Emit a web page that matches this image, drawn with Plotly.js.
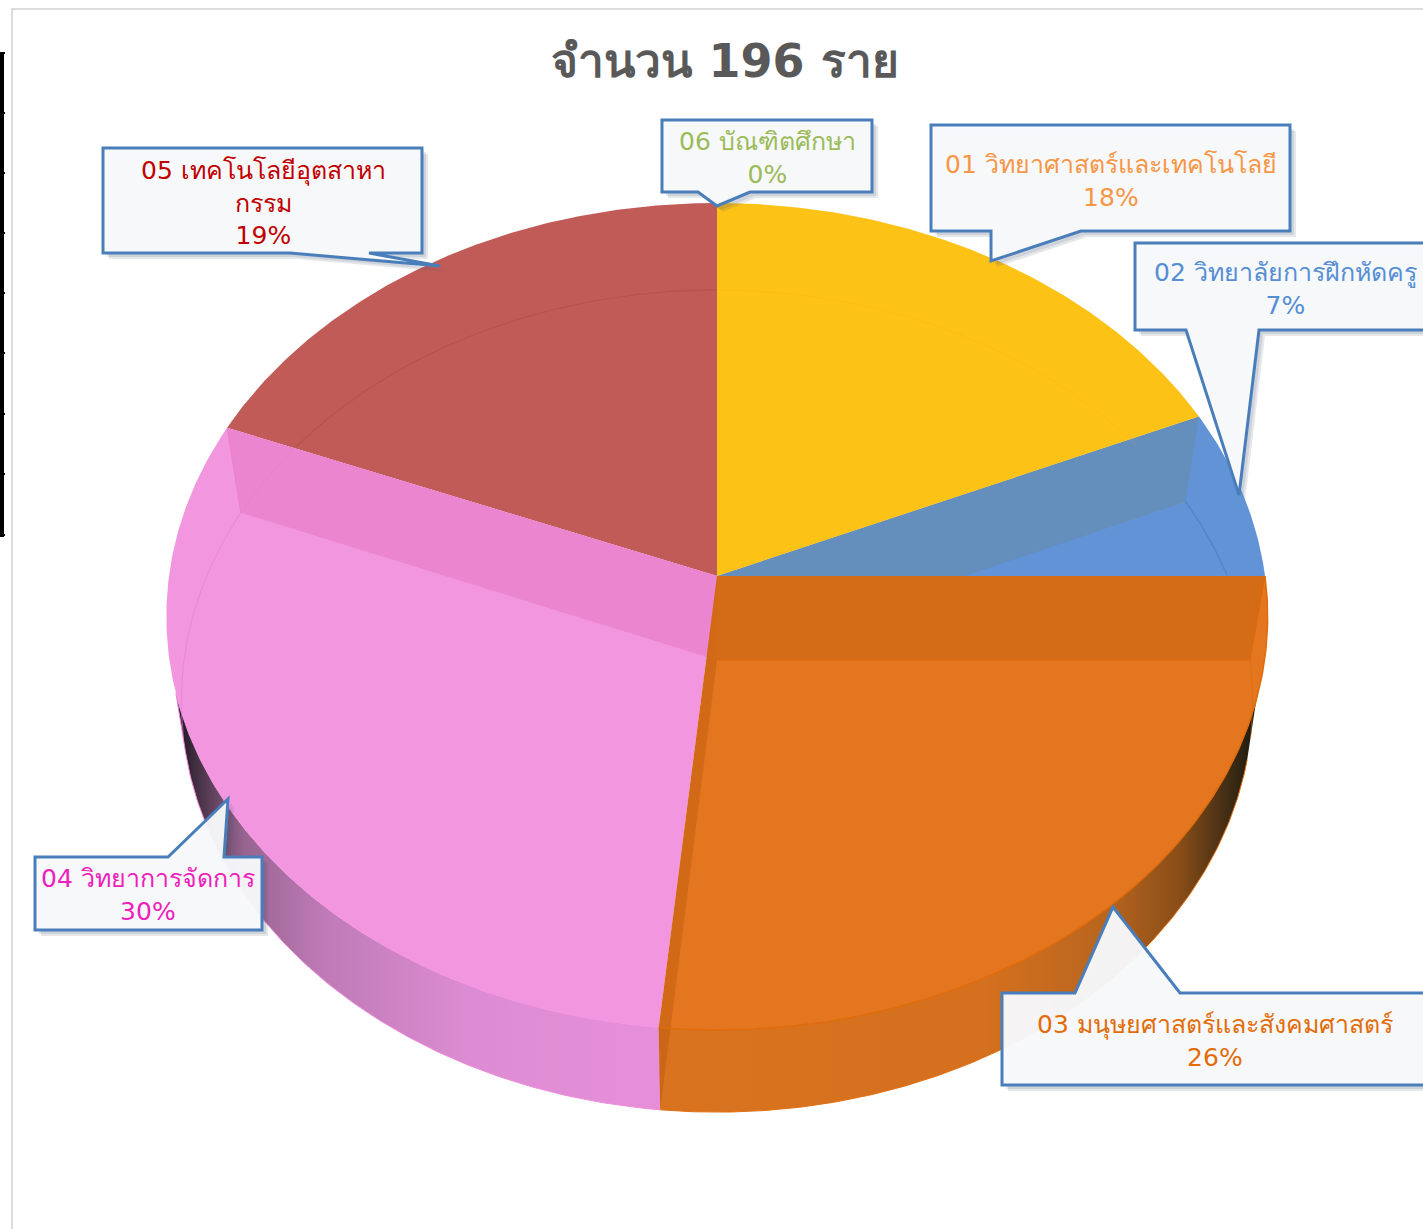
<!DOCTYPE html>
<html><head><meta charset="utf-8">
<script src="https://cdn.plot.ly/plotly-3.0.0.min.js"></script>
<style>html,body{margin:0;padding:0;background:#fff;overflow:hidden}</style>
</head><body><div id="chart" style="width:1423px;height:1229px"></div>
<script>
// ---- data (196 people in total) ----
const categories = ['01 วิทยาศาสตร์และเทคโนโลยี','02 วิทยาลัยการฝึกหัดครู','03 มนุษยศาสตร์และสังคมศาสตร์','04 วิทยาการจัดการ','05 เทคโนโลยีอุตสาหากรรม','06 บัณฑิตศึกษา'];
const counts = [36,13,52,58,37,0];
const percentLabels = ['18%','7%','26%','30%','19%','0%'];
const titleText = 'จำนวน 196 ราย';

// ---- styles and projection of the tilted disc ----
const sliceColors = ['#FCC216','#6293D7','#E3761E','#F296E0','#C15B58','#9BBB59'];
const textColors = ['#F79646','#558ED5','#E36C09','#EE22BB','#C00000','#9BBB59'];
const topFace = {cx:717, cy:576, a:409.5, b:548, p:0.098};
const lowFace = {cx:717, cy:660, a:407, b:533, p:0.0998};
const FONT = '"DejaVu Sans", Tahoma, "Noto Sans", sans-serif';

const total = counts.reduce((s,v)=>s+v,0);
const cum = [0]; counts.forEach(v=>cum.push(cum[cum.length-1]+v));
const rim = (t,f)=>{ // t = share of the full circle, clockwise from 12 o'clock
  const th=t*2*Math.PI, X=Math.sin(th), Y=Math.cos(th), w=1+f.p*Y;
  return [f.cx+f.b*X/w, f.cy-f.a*Y/w];
};
const arc = (t0,t1,f)=>{
  const n=Math.max(2,Math.ceil(Math.abs(t1-t0)*720)), o=[];
  for(let i=0;i<=n;i++) o.push(rim(t0+(t1-t0)*i/n,f));
  return o;
};
const apex = f=>[f.cx,f.cy];
const share = i=>cum[i]/total;

const traces=[];
const poly=(pts,fill,extra)=>traces.push(Object.assign({
  type:'scatter',mode:'lines',x:pts.map(p=>p[0]),y:pts.map(p=>p[1]),fill:'toself',fillcolor:fill,
  line:{width:0},hoverinfo:'skip',showlegend:false},extra||{}));
const stroke=(pts,color,w)=>traces.push({type:'scatter',mode:'lines',x:pts.map(p=>p[0]),y:pts.map(p=>p[1]),
  line:{color:color,width:w},hoverinfo:'skip',showlegend:false});

// outer walls: the silhouette runs straight from the upper rim to the lower rim
const wallR=arc(0.2976,share(3),topFace).concat(arc(share(3),0.2886,lowFace));
poly(wallR,'#D9731F',{fillgradient:{type:'horizontal',colorscale:[
  [0,'#D9731F'],[0.55,'#D4701E'],[0.75,'#B8651E'],[0.87,'#8A4E18'],[0.96,'#3A2A14'],[1,'#1A1A10']]},
  line:{width:1,color:'#E36F0F'}});
const wallL=arc(share(3),0.705,topFace).concat(arc(0.714,share(3),lowFace));
poly(wallL,'#E58FD8',{fillgradient:{type:'horizontal',colorscale:[
  [0,'#1A1420'],[0.05,'#4A3448'],[0.14,'#96648F'],[0.3,'#BE7AB6'],[0.6,'#DC8CD2'],[1,'#E68FD8']]},
  line:{width:1,color:'#F08CDC'}});

// top faces, in the order that lets each overlay be covered properly
const face=i=>[apex(topFace)].concat(arc(share(i),share(i+1),topFace));
poly(face(1),sliceColors[1],{name:categories[1]});
poly([apex(topFace),rim(share(1),topFace),rim(share(1),lowFace),apex(lowFace)],'#648FBC');
poly(face(0),sliceColors[0],{name:categories[0]});
poly(face(4),sliceColors[4],{name:categories[4]});
poly(face(3),sliceColors[3],{name:categories[3]});
poly([rim(share(4),topFace),apex(topFace),apex(lowFace),rim(share(4),lowFace)],'#EC85D0');
poly(face(2),sliceColors[2],{name:categories[2]});
poly([apex(topFace),rim(share(2),topFace),rim(share(2),lowFace),apex(lowFace)],'rgba(160,70,0,0.22)');
poly([apex(topFace),rim(share(3),topFace),rim(share(3),lowFace),apex(lowFace)],'rgba(160,70,0,0.26)');

// faint far rim seen through the transparent faces
stroke(arc(0,share(1)*0.85,lowFace),'rgba(240,160,20,0.16)',1);
stroke(arc(share(1),0.216,lowFace),'#5585C8',1.5);
stroke(arc(0.843,1,lowFace),'rgba(165,60,50,0.3)',1.2);
stroke(arc(share(4),0.843,lowFace),'rgba(225,110,205,0.25)',1);
stroke(arc(0.72,share(4),lowFace),'rgba(232,125,212,0.55)',1.2);
stroke(arc(0.25,0.28,lowFace),'rgba(225,105,0,0.45)',1.2);
stroke([apex(lowFace),rim(0.25,lowFace)],'#DE6C12',1.5);
stroke([rim(0.25,topFace),rim(0.25,lowFace)],'rgba(225,105,0,0.8)',1);
stroke([rim(share(4),topFace),rim(share(4),lowFace)],'rgba(225,110,205,0.4)',1);
stroke(arc(0.25,share(3),topFace),'#E06C0C',1.5);

// ---- callouts: box plus pointer ----
const callouts=[
 {i:4,box:[103,148,422,253],side:'b',tail:[369,440,266,290],tx:263,ty:203},
 {i:5,box:[662,120,872,192],side:'b',tail:[750,717,206,698],tx:767,ty:158},
 {i:0,box:[931,125,1290,231],side:'b',tail:[1081,991,261,991],tx:1111,ty:181},
 {i:1,box:[1135,243,1440,330],side:'b',tail:[1259,1239,495,1186],tx:1285,ty:289},
 {i:2,box:[1002,993,1440,1085],side:'t',tail:[1075,1113,907,1180],tx:1215,ty:1041},
 {i:3,box:[35,857,262,930],side:'t',tail:[168,228,799,224],tx:148,ty:895}
];
const labelLines=[[categories[0]],[categories[1]],[categories[2]],[categories[3]],['05 เทคโนโลยีอุตสาหา','กรรม'],[categories[5]]];
const pathOf=(c,d)=>{
  const [l,t,r,b]=c.box, [a,tipx,tipy,e]=c.tail;
  const P=(x,y)=>(x+d)+','+(y+d);
  if(c.side==='b') return 'M'+P(l,t)+'L'+P(r,t)+'L'+P(r,b)+'L'+P(a,b)+'L'+P(tipx,tipy)+'L'+P(e,b)+'L'+P(l,b)+'Z';
  return 'M'+P(l,t)+'L'+P(a,t)+'L'+P(tipx,tipy)+'L'+P(e,t)+'L'+P(r,t)+'L'+P(r,b)+'L'+P(l,b)+'Z';
};
const shapes=[], annotations=[];
// frame and the black rule at the far left
const ln=(x0,y0,x1,y1,c,w)=>shapes.push({type:'line',xref:'x',yref:'y',x0,y0,x1,y1,line:{color:c,width:w},layer:'below'});
ln(12,9,12,1235,'#DCDCDC',2); ln(11,9,1430,9,'#DCDCDC',2);
ln(2,53,2,537,'#000',4);
[53,113,173,233,293,353,414,474,535].forEach(y=>ln(0,y,5,y,'#000',2));
callouts.forEach(c=>{
  [6,4].forEach(d=>shapes.push({type:'path',xref:'x',yref:'y',path:pathOf(c,d),fillcolor:'rgba(70,85,110,0.14)',line:{width:0},layer:'above'}));
  shapes.push({type:'path',xref:'x',yref:'y',path:pathOf(c,0),fillcolor:'rgba(248,249,251,0.96)',line:{color:'#4A7EBB',width:3},layer:'above'});
  annotations.push({xref:'x',yref:'y',x:c.tx,y:c.ty,xanchor:'center',yanchor:'middle',showarrow:false,align:'center',
    text:labelLines[c.i].concat([percentLabels[c.i]]).join('<br>'),font:{family:FONT,size:25,color:textColors[c.i]}});
});

Plotly.newPlot('chart',traces,{
  width:1423,height:1229,margin:{l:0,r:0,t:0,b:0},paper_bgcolor:'#fff',plot_bgcolor:'rgba(0,0,0,0)',showlegend:false,
  xaxis:{range:[0,1423],visible:false,fixedrange:true},
  yaxis:{range:[1229,0],visible:false,fixedrange:true},
  title:{text:titleText,x:725/1423,xanchor:'center',y:1-61/1229,yanchor:'middle',font:{family:FONT,size:46,color:'#595959',weight:700}},
  shapes,annotations
},{displayModeBar:false,staticPlot:true});
</script></body></html>
